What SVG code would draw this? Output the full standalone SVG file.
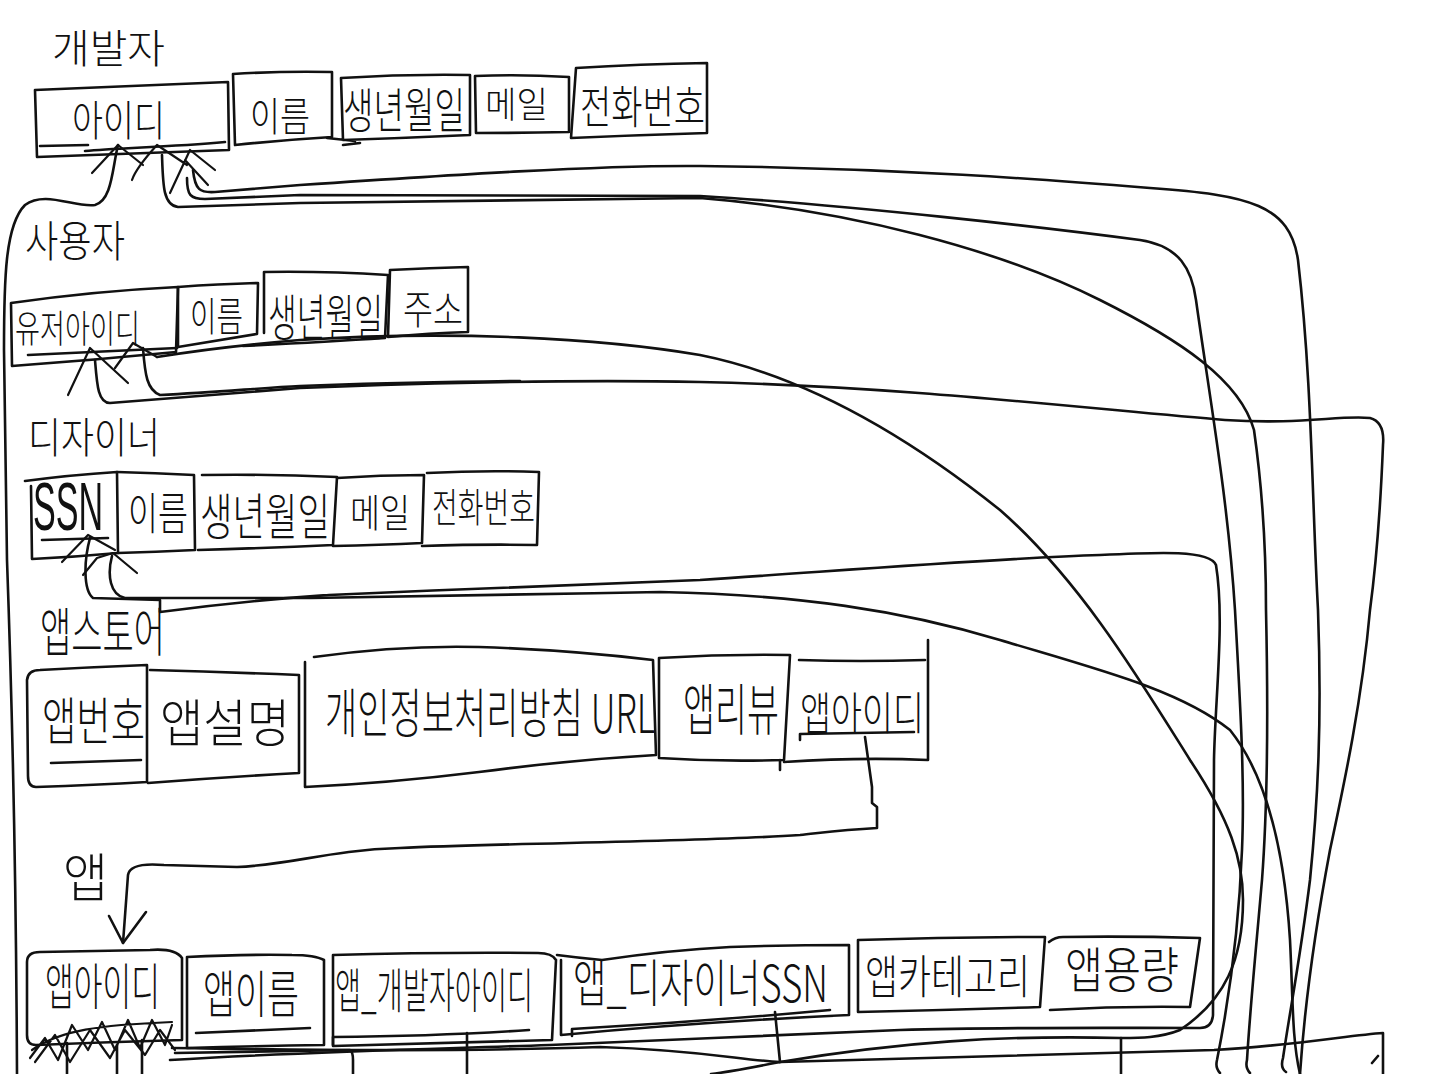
<svg xmlns="http://www.w3.org/2000/svg" width="1430" height="1074" viewBox="0 0 1430 1074">
  <style>
    .s{fill:none;stroke:#111;stroke-width:2.6;stroke-linecap:round;stroke-linejoin:round}
    .w{fill:none;stroke:#111;stroke-width:2.2;stroke-linecap:round;stroke-linejoin:round}
    .t{font-family:"Noto Sans CJK KR","Noto Sans",sans-serif;font-weight:300;fill:#111}
    .l{font-family:"Liberation Sans",sans-serif;font-weight:400;fill:#111}
  </style>
  <rect width="1430" height="1074" fill="#fff"/>

  <!-- 개발자 table -->
  <g id="developer">
    <text class="t" transform="translate(52,63) scale(1,1.08)" font-size="37" textLength="113" lengthAdjust="spacingAndGlyphs">개발자</text>
    <g id="developer-id">
      <path class="s" d="M35,90 Q130,86 228,82 L229,150 Q130,154 37,157 Z"/>
      <text class="t" transform="translate(72,136) scale(1,1.35)" font-size="31" textLength="93" lengthAdjust="spacingAndGlyphs">아이디</text>
      <path class="s" d="M40,146 L88,145 M85,151 C120,148 170,147 225,142"/>
    </g>
    <g id="developer-name">
      <path class="s" d="M233,74 Q280,71 332,72 L332,137 Q282,140 235,145 Z"/>
      <text class="t" transform="translate(250,131) scale(1,1.33)" font-size="30" textLength="60" lengthAdjust="spacingAndGlyphs">이름</text>
    </g>
    <g id="developer-birth">
      <path class="s" d="M341,78 Q405,74 470,75 L470,135 Q405,138 343,140 Z M327,138 L355,141 M343,145 L360,143"/>
      <text class="t" transform="translate(343,128) scale(1,1.57)" font-size="30.5" textLength="122" lengthAdjust="spacingAndGlyphs">생년월일</text>
    </g>
    <g id="developer-mail">
      <path class="s" d="M475,76 Q520,74 569,77 L569,132 Q520,133 476,133 Z"/>
      <text class="t" transform="translate(485,118) scale(1,1.14)" font-size="31.5" textLength="63" lengthAdjust="spacingAndGlyphs">메일</text>
    </g>
    <g id="developer-phone">
      <path class="s" d="M576,68 Q640,64 707,63 L707,133 Q640,135 571,138 Z"/>
      <text class="t" transform="translate(580,124) scale(1,1.47)" font-size="31" textLength="125" lengthAdjust="spacingAndGlyphs">전화번호</text>
    </g>
  </g>

  <!-- 사용자 table -->
  <g id="user">
    <text class="t" transform="translate(25,257) scale(1,1.32)" font-size="33" textLength="100" lengthAdjust="spacingAndGlyphs">사용자</text>
    <g id="user-id">
      <path class="s" d="M11,303 Q95,291 178,287 L176,352 Q95,360 12,366 Z"/>
      <text class="t" transform="translate(15,342) scale(1,1.52)" font-size="25" textLength="125" lengthAdjust="spacingAndGlyphs">유저아이디</text>
      <path class="s" d="M28,355 L177,348"/>
    </g>
    <g id="user-name">
      <path class="s" d="M178,287 Q220,284 258,283 L257,334 Q220,340 178,347 Z"/>
      <text class="t" transform="translate(190,331) scale(1,1.5)" font-size="26.5" textLength="53" lengthAdjust="spacingAndGlyphs">이름</text>
    </g>
    <g id="user-birth">
      <path class="s" d="M264,272 Q325,271 388,275 L385,338 Q325,342 243,346 M264,272 L264,333"/>
      <text class="t" transform="translate(268,336) scale(1,1.74)" font-size="28.7" textLength="115" lengthAdjust="spacingAndGlyphs">생년월일</text>
    </g>
    <g id="user-addr">
      <path class="s" d="M390,270 Q430,268 468,267 L468,332 Q430,333 388,337 Z"/>
      <text class="t" transform="translate(403,324) scale(1,1.33)" font-size="30" textLength="60" lengthAdjust="spacingAndGlyphs">주소</text>
    </g>
  </g>

  <!-- 디자이너 table -->
  <g id="designer">
    <text class="t" transform="translate(28,453) scale(1,1.27)" font-size="33" textLength="132" lengthAdjust="spacingAndGlyphs">디자이너</text>
    <g id="designer-ssn">
      <path class="s" d="M25,481 Q70,475 117,472 L118,553 Q75,557 32,559 L31,486"/>
      <text class="l" transform="translate(33,530) scale(1,2)" font-size="34" textLength="70" lengthAdjust="spacingAndGlyphs">SSN</text>
      <path class="s" d="M42,540 L108,538"/>
    </g>
    <g id="designer-name">
      <path class="s" d="M117,472 Q155,473 194,475 L195,550 Q155,552 118,553"/>
      <text class="t" transform="translate(128,530) scale(1,1.47)" font-size="30" textLength="60" lengthAdjust="spacingAndGlyphs">이름</text>
    </g>
    <g id="designer-birth">
      <path class="s" d="M202,475 Q270,474 337,477 L333,545 Q270,548 198,550"/>
      <text class="t" transform="translate(200,535) scale(1,1.54)" font-size="32.5" textLength="130" lengthAdjust="spacingAndGlyphs">생년월일</text>
    </g>
    <g id="designer-mail">
      <path class="s" d="M337,478 Q380,475 424,475 L422,543 Q380,545 333,546"/>
      <text class="t" transform="translate(350,527) scale(1,1.27)" font-size="30" textLength="60" lengthAdjust="spacingAndGlyphs">메일</text>
    </g>
    <g id="designer-phone">
      <path class="s" d="M427,473 Q485,470 539,472 L537,545 Q485,544 422,546"/>
      <text class="t" transform="translate(432,522) scale(1,1.55)" font-size="25.7" textLength="103" lengthAdjust="spacingAndGlyphs">전화번호</text>
    </g>
  </g>

  <!-- 앱스토어 table -->
  <g id="appstore">
    <text class="t" transform="translate(40,652) scale(1,1.73)" font-size="31" textLength="125" lengthAdjust="spacingAndGlyphs">앱스토어</text>
    <g id="appstore-no">
      <path class="s" d="M27,680 Q28,670 40,670 Q95,667 147,665 L147,782 Q95,785 36,787 Q28,787 28,776 Z"/>
      <text class="t" transform="translate(42,740) scale(1,1.52)" font-size="34" textLength="103" lengthAdjust="spacingAndGlyphs">앱번호</text>
      <path class="s" d="M51,763 L141,760"/>
    </g>
    <g id="appstore-desc">
      <path class="s" d="M150,670 Q225,672 299,675 L299,773 Q225,777 148,783"/>
      <text class="t" transform="translate(160,742) scale(1,1.2)" font-size="43" textLength="130" lengthAdjust="spacingAndGlyphs">앱설명</text>
    </g>
    <g id="appstore-privacy">
      <path class="s" d="M314,657 Q400,645 479,647 Q570,650 653,660 L656,755 Q570,760 479,772 Q390,783 305,787 L305,662"/>
      <text class="t" transform="translate(325,733) scale(1,1.6)" font-size="33.5" textLength="330" lengthAdjust="spacingAndGlyphs">개인정보처리방침 URL</text>
    </g>
    <g id="appstore-review">
      <path class="s" d="M659,658 Q725,654 790,655 L784,760 Q720,762 659,758 Z"/>
      <text class="t" transform="translate(683,730) scale(1,1.73)" font-size="32" textLength="96" lengthAdjust="spacingAndGlyphs">앱리뷰</text>
    </g>
    <g id="appstore-appid">
      <path class="s" d="M799,660 Q860,662 925,660 M928,640 L928,760 Q860,757 784,762 M780,760 L780,770"/>
      <text class="t" transform="translate(800,730) scale(1,1.47)" font-size="31" textLength="124" lengthAdjust="spacingAndGlyphs">앱아이디</text>
      <path class="s" d="M800,740 L800,734 L914,732"/>
    </g>
  </g>

  <!-- 앱 table -->
  <g id="app">
    <text class="t" transform="translate(63,897) scale(1,1.16)" font-size="45" textLength="45" lengthAdjust="spacingAndGlyphs">앱</text>
    <g id="app-id">
      <path class="s" d="M27,962 Q27,952 40,952 L150,950 Q175,948 182,958 L182,1040 Q110,1042 36,1045 Q27,1045 27,1035 Z"/>
      <text class="t" transform="translate(45,1005) scale(1,1.74)" font-size="28.7" textLength="115" lengthAdjust="spacingAndGlyphs">앱아이디</text>
    </g>
    <g id="app-name">
      <path class="s" d="M187,957 Q250,954 292,955 Q315,955 324,960 L324,1045 Q255,1046 187,1048 Z"/>
      <text class="t" transform="translate(203,1013) scale(1,1.6)" font-size="32" textLength="96" lengthAdjust="spacingAndGlyphs">앱이름</text>
      <path class="s" d="M196,1033 L310,1028"/>
    </g>
    <g id="app-devid">
      <path class="s" d="M333,955 Q440,952 538,953 Q552,953 556,960 L552,1040 Q440,1043 333,1046 Z"/>
      <text class="t" transform="translate(335,1008) scale(1,1.8)" font-size="26.5" textLength="198" lengthAdjust="spacingAndGlyphs">앱_개발자아이디</text>
      <path class="s" d="M333,1045 L333,1037 Q440,1036 529,1030"/>
    </g>
    <g id="app-dsnssn">
      <path class="s" d="M557,955 Q580,958 602,960 Q670,950 730,947 Q790,945 849,945 L849,1015 Q700,1022 561,1035 L561,960"/>
      <text class="t" transform="translate(573,1002) scale(1,1.47)" font-size="35" textLength="255" lengthAdjust="spacingAndGlyphs">앱_디자이너SSN</text>
      <path class="s" d="M572,1036 L572,1029 Q700,1022 830,1010"/>
    </g>
    <g id="app-category">
      <path class="s" d="M858,940 Q950,937 1045,937 L1040,1007 Q950,1010 858,1012 Z"/>
      <text class="t" transform="translate(865,993) scale(1,1.39)" font-size="33" textLength="165" lengthAdjust="spacingAndGlyphs">앱카테고리</text>
    </g>
    <g id="app-capacity">
      <path class="s" d="M1049,942 Q1055,937 1063,937 Q1130,936 1200,938 L1190,1007 Q1120,1006 1050,1010"/>
      <text class="t" transform="translate(1065,988) scale(1,1.3)" font-size="38" textLength="114" lengthAdjust="spacingAndGlyphs">앱용량</text>
    </g>
  </g>

  <!-- relationship lines -->
  <g id="connectors">
    <!-- arrow-tip carets under the keys -->
    <path class="w" d="M92,173 L118,145 L143,165 M132,180 Q136,168 157,145 L187,165 M170,193 L190,150 L215,170 M185,160 L208,185"/>
    <path class="w" d="M68,395 L90,348 L128,383 M115,368 L133,343 L157,357"/>
    <path class="w" d="M62,562 L88,535 L115,550 M83,575 L97,558 L113,553 L137,573"/>
    <path class="w" d="M30,1058 L45,1038 L58,1060 L72,1025 L88,1050 L102,1022 L115,1050 L128,1020 L140,1048 L152,1020 L165,1045 L172,1025 M35,1062 L55,1035 L70,1062 L90,1030 L110,1058 L125,1030 L145,1055 L160,1030 L175,1050 M32,1050 C60,1030 100,1025 172,1022"/>

    <!-- left border line -->
    <path class="s" d="M118,145 C112,170 112,200 95,205 C75,208 45,190 25,205 C5,225 4,280 4,350 L7,560 C12,700 16,850 17,1074"/>

    <!-- from 개발자 아이디 -->
    <path class="s" d="M193,170 C195,190 200,193 215,192 L300,185 C450,175 600,165 700,166 C900,168 1050,180 1150,188 C1250,195 1290,205 1298,260 C1312,380 1312,500 1318,610 C1322,720 1318,800 1310,880 C1300,960 1290,1010 1283,1058 Q1280,1068 1286,1072"/>
    <path class="s" d="M187,178 C187,195 190,199 205,199 L300,195 C450,195 600,196 700,196 C850,205 1050,228 1140,240 C1180,246 1192,270 1196,300 C1210,400 1228,500 1235,610 C1240,700 1245,780 1242,850 C1238,950 1225,1020 1217,1060 Q1215,1068 1220,1073"/>
    <path class="s" d="M162,155 C163,185 163,205 178,207 L300,203 C450,200 600,198 700,198 C850,210 1000,250 1100,300 C1180,340 1240,380 1254,430 C1264,500 1266,560 1266,610 C1268,700 1268,800 1262,880 C1255,960 1250,1010 1247,1060 Q1245,1068 1250,1073"/>

    <!-- from 사용자 유저아이디 -->
    <path class="s" d="M95,360 C97,385 98,403 110,403 L300,388 C450,382 600,380 700,382 C900,386 1100,410 1225,420 C1300,425 1340,415 1370,418 Q1385,422 1383,445 C1380,520 1374,580 1370,610 C1362,700 1345,780 1330,850 C1315,930 1305,1000 1300,1074"/>
    <path class="s" d="M143,348 C145,375 147,390 160,395 C220,392 260,388 300,386 C400,382 450,382 520,381"/>
    <path class="s" d="M157,357 C200,350 240,345 300,340 C450,330 600,338 700,355 C800,375 900,430 1000,510 C1080,580 1140,680 1190,760 C1230,820 1243,860 1243,900 C1243,960 1225,1000 1180,1030 C1160,1038 1140,1038 1121,1038 L1121,1074"/>
    <path class="s" d="M1121,1038 C1000,1035 900,1042 780,1062 C750,1068 730,1072 711,1074"/>

    <!-- from 디자이너 SSN -->
    <path class="s" d="M90,538 C84,560 83,590 93,598 L160,600 L160,612 C250,600 300,597 329,595 C450,590 550,585 700,580 C850,570 1000,558 1100,555 C1160,552 1210,550 1216,565 C1225,620 1215,700 1214,760 C1213,860 1213,950 1213,1015 Q1212,1028 1200,1028 C1100,1028 1000,1027 900,1030 C800,1035 650,1040 550,1045 C400,1050 300,1052 170,1060"/>
    <path class="s" d="M112,556 C107,575 110,595 125,598 L311,598 C450,596 550,594 660,592 C800,595 900,610 1000,640 C1100,670 1180,690 1230,730 C1270,780 1285,860 1290,940 C1293,1000 1292,1040 1300,1074"/>

    <!-- 앱스토어 앱아이디 → 앱 앱아이디 -->
    <path class="s" d="M865,737 L872,787 L872,803 L877,807 L877,828 C840,830 820,833 800,835 C700,842 500,843 400,848 C330,850 290,865 237,867 L164,865 Q130,862 128,875 L123,943"/>
    <path class="s" d="M109,916 L123,943 L146,912"/>

    <!-- lines along the bottom -->
    <path class="s" d="M172,1048 C300,1050 450,1052 600,1047 C700,1050 740,1060 780,1062 C900,1060 1100,1052 1214,1050 C1300,1045 1350,1035 1383,1033 L1383,1074"/>
    <path class="s" d="M175,1053 L350,1050 Q353,1052 353,1060 L353,1074"/>
    <path class="s" d="M467,1033 L467,1074 M775,1012 L780,1062 M67,1043 L67,1074 M117,1045 L117,1074 M142,1040 L142,1074 M1372,1063 L1378,1056"/>
  </g>
</svg>
